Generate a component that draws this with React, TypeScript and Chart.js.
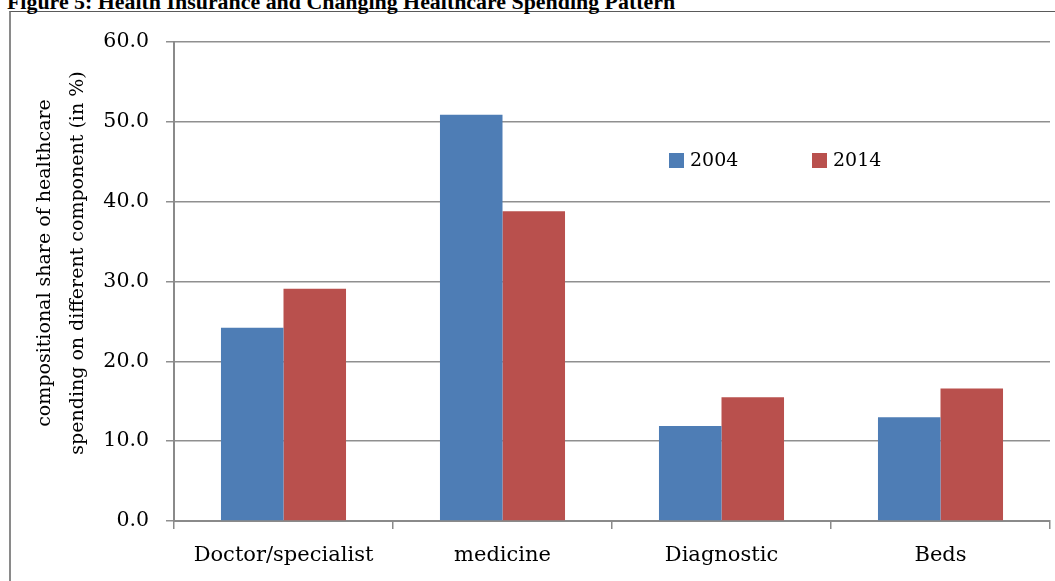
import React, { useEffect, useRef } from "react";
import { Chart, registerables } from "chart.js";

Chart.register(...registerables);

const TITLE = "Figure 5: Health Insurance and Changing Healthcare Spending Pattern";
const categories = ["Doctor/specialist", "medicine", "Diagnostic", "Beds"];
const seriesLabels = ["2004", "2014"];
const values2004 = [24.2, 50.9, 11.9, 13.0];
const values2014 = [29.1, 38.8, 15.5, 16.6];
const yTitleLines = ["compositional share of healthcare", "spending on different component (in %)"];
const colors = ["#4E7DB5", "#B9504D"];

const FONT = "'DejaVu Serif', serif";

const W = 1055;
const H = 581;

const axisTitlePlugin = {
  id: "axisTitlePlugin",
  afterDraw(chart: any) {
    const ctx = chart.ctx;
    ctx.save();
    ctx.fillStyle = "#000";
    ctx.font = `19px ${FONT}`;
    ctx.textAlign = "center";
    ctx.textBaseline = "middle";
    const xs = [45, 78];
    const cy = 263;
    yTitleLines.forEach((line, i) => {
      ctx.save();
      ctx.translate(xs[i], cy);
      ctx.rotate(-Math.PI / 2);
      ctx.fillText(line, 0, 0);
      ctx.restore();
    });
    ctx.restore();
  },
};

const innerLegendPlugin = {
  id: "innerLegendPlugin",
  afterDraw(chart: any) {
    const ctx = chart.ctx;
    const area = chart.chartArea;
    const offsets = [495, 638];
    ctx.save();
    ctx.font = `19px ${FONT}`;
    ctx.textBaseline = "middle";
    ctx.textAlign = "left";
    chart.data.datasets.forEach((ds: any, i: number) => {
      const x = area.left + offsets[i];
      const y = 153;
      ctx.fillStyle = ds.backgroundColor;
      ctx.fillRect(x, y, 15, 15);
      ctx.fillStyle = "#000";
      ctx.fillText(ds.label, x + 21, y + 8);
    });
    ctx.restore();
  },
};

export default function App() {
  const canvasRef = useRef<HTMLCanvasElement | null>(null);

  useEffect(() => {
    if (!canvasRef.current) return;
    const chart = new Chart(canvasRef.current, {
      type: "bar",
      data: {
        labels: categories,
        datasets: [
          {
            label: seriesLabels[0],
            data: values2004,
            backgroundColor: colors[0],
            borderWidth: 0,
            categoryPercentage: 0.571,
            barPercentage: 1.0,
          },
          {
            label: seriesLabels[1],
            data: values2014,
            backgroundColor: colors[1],
            borderWidth: 0,
            categoryPercentage: 0.571,
            barPercentage: 1.0,
          },
        ],
      },
      options: {
        responsive: false,
        animation: false,
        devicePixelRatio: 1,
        layout: { padding: { top: 42, left: 0, right: 5, bottom: 0 } },
        plugins: {
          legend: { display: false },
          title: { display: false },
          tooltip: { enabled: false },
        },
        scales: {
          x: {
            grid: {
              display: true,
              drawOnChartArea: false,
              drawTicks: true,
              tickLength: 8,
              offset: true,
              color: "#8a8a8a",
              lineWidth: 1.5,
            },
            border: { display: true, color: "#8a8a8a", width: 2 },
            ticks: {
              color: "#000",
              font: { family: FONT, size: 21 },
              padding: 14,
              maxRotation: 0,
              autoSkip: false,
            },
            afterFit(scale: any) {
              scale.height = 60;
            },
          },
          y: {
            min: 0,
            max: 60,
            grid: {
              color: "#8f8f8f",
              lineWidth: 1.5,
              drawTicks: true,
              tickLength: 8,
            },
            border: { display: true, color: "#8a8a8a", width: 2 },
            ticks: {
              stepSize: 10,
              color: "#000",
              font: { family: FONT, size: 20.5 },
              padding: 17,
              callback: (v: any) => Number(v).toFixed(1),
            },
            afterFit(scale: any) {
              scale.width = 174;
            },
          },
        },
      },
      plugins: [axisTitlePlugin, innerLegendPlugin],
    });
    return () => chart.destroy();
  }, []);

  return (
    <div
      style={{
        position: "fixed",
        left: 0,
        top: 0,
        width: W,
        height: H,
        overflow: "hidden",
        background: "#fff",
      }}
    >
      <div
        style={{
          position: "absolute",
          left: 9,
          top: 11,
          width: 2000,
          height: 2000,
          borderLeft: "2px solid #8a8a8a",
          borderTop: "1px solid #5a5a5a",
        }}
      />
      <div
        style={{
          position: "absolute",
          left: 7,
          top: -8,
          fontFamily: "'Liberation Serif', serif",
          fontWeight: "bold",
          fontSize: 21.9,
          lineHeight: "20px",
          whiteSpace: "nowrap",
          color: "#000",
        }}
      >
        {TITLE}
      </div>
      <canvas
        ref={canvasRef}
        width={W}
        height={H}
        style={{ position: "absolute", left: 0, top: 0, width: W, height: H }}
      />
    </div>
  );
}
